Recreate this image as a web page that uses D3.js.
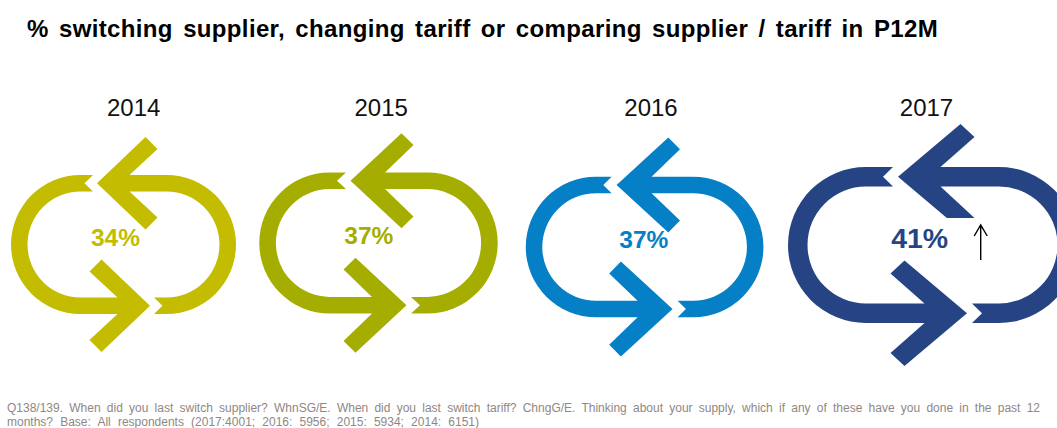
<!DOCTYPE html>
<html>
<head>
<meta charset="utf-8">
<script src="https://cdnjs.cloudflare.com/ajax/libs/d3/7.8.5/d3.min.js"></script>
<style>
  html, body { margin: 0; padding: 0; background: #fff; }
  svg { display: block; }
  text { font-family: "Liberation Sans", Arial, sans-serif; }
</style>
</head>
<body>
<script>
// Share of respondents who switched or compared supplier / tariff, by year
const years = ["2014", "2015", "2016", "2017"];
const shares = [34, 37, 37, 41];
const titleText = "% switching supplier, changing tariff or comparing supplier / tariff in P12M";
const noteLines = [
  "Q138/139. When did you last switch supplier? WhnSG/E. When did you last switch tariff? ChngG/E. Thinking about your supply, which if any of these have you done in the past 12",
  "months? Base: All respondents (2017:4001; 2016: 5956; 2015: 5934; 2014: 6151)"
];
const risingYear = "2017";

// Layout and styling for each year's cycle icon
const icons = {
  "2014": { color: "#c3bc00", cx: 123.5, cy: 244.5, hw: 112.5, hh: 69.5, t: 16.5, tip: 26.5, neck: 6, end: 30.5, notch: 39, far: [22, 107.5], side: [34, 95.5] },
  "2015": { color: "#a5ae00", cx: 378.5, cy: 243, hw: 119.2, hh: 70.5, t: 16.6, tip: 28, neck: 6.5, end: 32.5, notch: 41.5, far: [23, 109.7], side: [35, 98] },
  "2016": { color: "#0580c6", cx: 644.6, cy: 247, hw: 118.8, hh: 70.3, t: 16.5, tip: 28, neck: 7, end: 33, notch: 41.3, far: [23.7, 109.5], side: [35.4, 97.7] },
  "2017": { color: "#264484", cx: 932.5, cy: 245, hw: 144.5, hh: 78, t: 19.5, tip: 34.5, neck: 8, end: 39.5, notch: 49.5, far: [28, 121], side: [42, 108], cut: 27 }
};
const yearLabels = { "2014": [133.7, 116], "2015": [381.2, 116], "2016": [651, 116], "2017": [926.5, 116] };
const shareLabels = {
  "2014": [115.5, 246, 24.5], "2015": [368.8, 244, 24.5],
  "2016": [643.8, 247.5, 24.5], "2017": [919.7, 247.5, 28.5]
};

const svg = d3.select("body").append("svg").attr("width", 1057).attr("height", 428);

// One half of the cycle: an arrow pointing left at the top, whose shaft wraps
// round the right-hand side and ends in a notch at the bottom.
function halfCycle(p, cut) {
  const path = d3.path();
  const mid = -(p.hh - p.t / 2);
  const arcX = p.hw - p.hh;
  const mirror = y => 2 * mid - y;
  path.moveTo(-p.tip, mid);
  path.lineTo(p.far[0], -p.far[1]);
  path.lineTo(p.side[0], -p.side[1]);
  path.lineTo(p.neck, -p.hh);
  path.lineTo(arcX, -p.hh);
  path.arc(arcX, 0, p.hh, -Math.PI / 2, Math.PI / 2);
  path.lineTo(p.end, p.hh);
  path.lineTo(p.notch, p.hh - p.t / 2);
  path.lineTo(p.end, p.hh - p.t);
  path.lineTo(arcX, p.hh - p.t);
  path.arc(arcX, 0, p.hh - p.t, Math.PI / 2, -Math.PI / 2, true);
  path.lineTo(p.neck, -p.hh + p.t);
  const lowY = mirror(-p.far[1]);
  if (cut) {
    // The lower arm is squared off horizontally above the percentage
    const y = -p.cut;
    path.lineTo(p.side[0], y);
    path.lineTo(-p.tip + (p.far[0] + p.tip) * (y - mid) / (lowY - mid), y);
  } else {
    path.lineTo(p.side[0], mirror(-p.side[1]));
    path.lineTo(p.far[0], lowY);
  }
  path.closePath();
  return path.toString();
}

// Spread a line's words so the line fills the given width
function fitWords(selection, width) {
  selection.each(function () {
    const node = d3.select(this);
    const gaps = node.text().split(" ").length - 1;
    node.attr("word-spacing", (width - this.getComputedTextLength()) / gaps);
  });
}

const panels = svg.selectAll("g.panel").data(years).join("g").attr("class", "panel");

panels.each(function (year, i) {
  const p = icons[year];
  const g = d3.select(this);
  const icon = g.append("g").attr("transform", `translate(${p.cx},${p.cy})`).attr("fill", p.color);
  icon.append("path").attr("d", halfCycle(p, p.cut !== undefined));
  icon.append("path").attr("d", halfCycle(p, false)).attr("transform", "rotate(180)");

  g.append("text")
    .attr("x", yearLabels[year][0]).attr("y", yearLabels[year][1])
    .attr("text-anchor", "middle").attr("font-size", 24).attr("fill", "#111")
    .text(year);

  g.append("text")
    .attr("x", shareLabels[year][0]).attr("y", shareLabels[year][1])
    .attr("text-anchor", "middle").attr("font-size", shareLabels[year][2])
    .attr("font-weight", "bold").attr("fill", p.color)
    .text(d3.format(".0%")(shares[i] / 100));
});

// Upward movement marker beside the latest year
const riseX = shareLabels[risingYear][0] + 61;
const rise = d3.path();
rise.moveTo(riseX, 260); rise.lineTo(riseX, 225);
rise.moveTo(riseX - 6.5, 236); rise.lineTo(riseX, 225); rise.lineTo(riseX + 6.5, 236);
svg.append("path").attr("d", rise.toString()).attr("fill", "none").attr("stroke", "#000").attr("stroke-width", 1.4);

svg.append("text")
  .attr("x", 27).attr("y", 36.5)
  .attr("font-size", 24).attr("font-weight", "bold").attr("fill", "#000")
  .attr("letter-spacing", 0.35)
  .text(titleText)
  .call(fitWords, 911);

svg.selectAll("text.note").data(noteLines).join("text")
  .attr("class", "note")
  .attr("x", 7)
  .attr("y", (d, i) => 412 + i * 13.5)
  .attr("font-size", 12).attr("fill", "#8f8783")
  .text(d => d)
  .each(function (d, i) { d3.select(this).call(fitWords, [1033, 472][i]); });
</script>
</body>
</html>
